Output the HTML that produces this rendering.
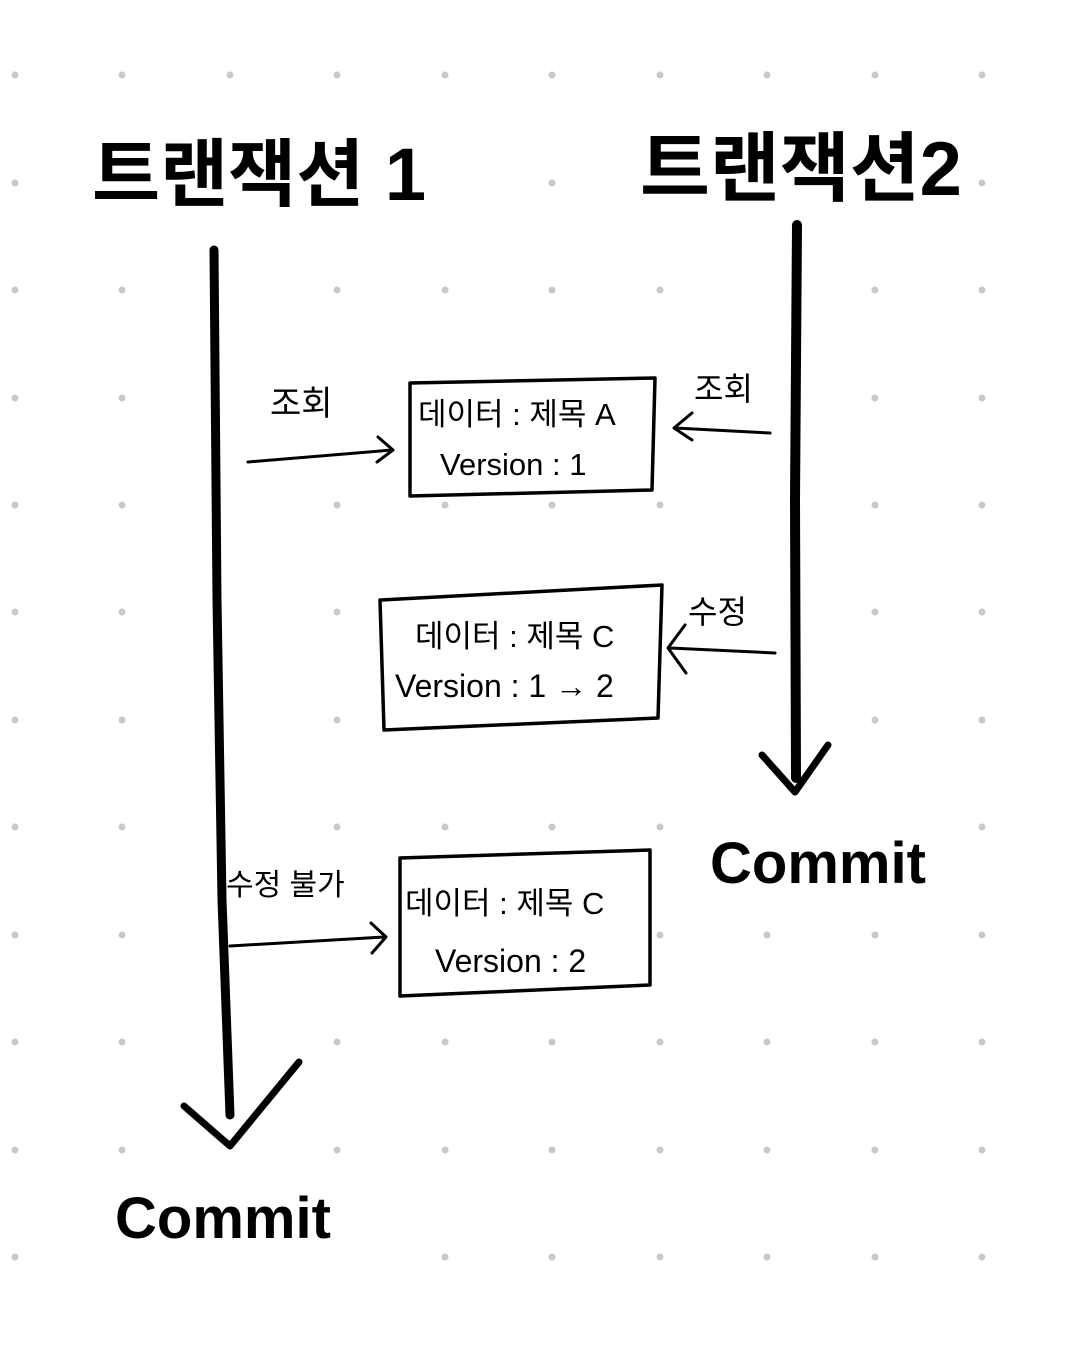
<!DOCTYPE html>
<html><head><meta charset="utf-8"><style>
html,body{margin:0;padding:0;background:#fff;}
svg{display:block;}
text{font-family:"Liberation Sans","Noto Sans CJK KR","NanumGothic",sans-serif;fill:#000;}
</style></head><body>
<svg width="1078" height="1359" viewBox="0 0 1078 1359" xmlns="http://www.w3.org/2000/svg">
<rect width="1078" height="1359" fill="#fff"/>
<g fill="#c9c9c9">
<circle cx="15" cy="75" r="3.5"/><circle cx="122" cy="75" r="3.5"/><circle cx="230" cy="75" r="3.5"/><circle cx="337" cy="75" r="3.5"/><circle cx="445" cy="75" r="3.5"/><circle cx="552" cy="75" r="3.5"/><circle cx="660" cy="75" r="3.5"/><circle cx="767" cy="75" r="3.5"/><circle cx="875" cy="75" r="3.5"/><circle cx="982" cy="75" r="3.5"/>
<circle cx="15" cy="183" r="3.5"/><circle cx="552" cy="183" r="3.5"/><circle cx="982" cy="183" r="3.5"/>
<circle cx="15" cy="290" r="3.5"/><circle cx="122" cy="290" r="3.5"/><circle cx="337" cy="290" r="3.5"/><circle cx="445" cy="290" r="3.5"/><circle cx="552" cy="290" r="3.5"/><circle cx="660" cy="290" r="3.5"/><circle cx="875" cy="290" r="3.5"/><circle cx="982" cy="290" r="3.5"/>
<circle cx="15" cy="398" r="3.5"/><circle cx="122" cy="398" r="3.5"/><circle cx="875" cy="398" r="3.5"/><circle cx="982" cy="398" r="3.5"/>
<circle cx="15" cy="505" r="3.5"/><circle cx="122" cy="505" r="3.5"/><circle cx="337" cy="505" r="3.5"/><circle cx="445" cy="505" r="3.5"/><circle cx="552" cy="505" r="3.5"/><circle cx="660" cy="505" r="3.5"/><circle cx="875" cy="505" r="3.5"/><circle cx="982" cy="505" r="3.5"/>
<circle cx="15" cy="612" r="3.5"/><circle cx="122" cy="612" r="3.5"/><circle cx="337" cy="612" r="3.5"/><circle cx="875" cy="612" r="3.5"/><circle cx="982" cy="612" r="3.5"/>
<circle cx="15" cy="720" r="3.5"/><circle cx="122" cy="720" r="3.5"/><circle cx="337" cy="720" r="3.5"/><circle cx="875" cy="720" r="3.5"/><circle cx="982" cy="720" r="3.5"/>
<circle cx="15" cy="827" r="3.5"/><circle cx="122" cy="827" r="3.5"/><circle cx="337" cy="827" r="3.5"/><circle cx="445" cy="827" r="3.5"/><circle cx="552" cy="827" r="3.5"/><circle cx="660" cy="827" r="3.5"/><circle cx="982" cy="827" r="3.5"/>
<circle cx="15" cy="935" r="3.5"/><circle cx="122" cy="935" r="3.5"/><circle cx="660" cy="935" r="3.5"/><circle cx="767" cy="935" r="3.5"/><circle cx="875" cy="935" r="3.5"/><circle cx="982" cy="935" r="3.5"/>
<circle cx="15" cy="1042" r="3.5"/><circle cx="122" cy="1042" r="3.5"/><circle cx="337" cy="1042" r="3.5"/><circle cx="445" cy="1042" r="3.5"/><circle cx="552" cy="1042" r="3.5"/><circle cx="660" cy="1042" r="3.5"/><circle cx="767" cy="1042" r="3.5"/><circle cx="875" cy="1042" r="3.5"/><circle cx="982" cy="1042" r="3.5"/>
<circle cx="15" cy="1150" r="3.5"/><circle cx="122" cy="1150" r="3.5"/><circle cx="337" cy="1150" r="3.5"/><circle cx="445" cy="1150" r="3.5"/><circle cx="552" cy="1150" r="3.5"/><circle cx="660" cy="1150" r="3.5"/><circle cx="767" cy="1150" r="3.5"/><circle cx="875" cy="1150" r="3.5"/><circle cx="982" cy="1150" r="3.5"/>
<circle cx="15" cy="1257" r="3.5"/><circle cx="445" cy="1257" r="3.5"/><circle cx="552" cy="1257" r="3.5"/><circle cx="660" cy="1257" r="3.5"/><circle cx="767" cy="1257" r="3.5"/><circle cx="875" cy="1257" r="3.5"/><circle cx="982" cy="1257" r="3.5"/>
</g>
<g fill="none" stroke="#000" stroke-linecap="round" stroke-linejoin="round">
<path d="M214 250 L217 600 L222 900 L230 1115" stroke-width="9"/>
<path d="M184 1106 L230 1146 L299 1062" stroke-width="7"/>
<path d="M797 225 L795 500 L796 778" stroke-width="10"/>
<path d="M762 755 L795 792 L828 745" stroke-width="7"/>
<path d="M410 383 L655 378 L652 490 L410 496 Z" stroke-width="3.5"/>
<path d="M380 600 L662 585 L658 718 L384 730 Z" stroke-width="3.5"/>
<path d="M400 858 L650 850 L650 985 L400 996 Z" stroke-width="3.5"/>
<path d="M248 462 L392 450 M378 437 L393 450 L377 462" stroke-width="3"/>
<path d="M770 433 L675 428 M692 413 L674 428 L692 440" stroke-width="3"/>
<path d="M775 653 L670 648 M685 625 L668 648 L686 673" stroke-width="3"/>
<path d="M230 946 L385 937 M371 923 L386 937 L372 953" stroke-width="3"/>
</g>
<text x="92" y="200" font-size="74" font-weight="bold">트랜잭션 1</text>
<text x="640" y="195" font-size="76" font-weight="bold">트랜잭션2</text>
<text x="710" y="883" font-size="58" font-weight="bold">Commit</text>
<text x="115" y="1238" font-size="58" font-weight="bold">Commit</text>
<text x="270" y="415" font-size="34">조회</text>
<text x="694" y="400" font-size="32">조회</text>
<text x="688" y="623" font-size="32">수정</text>
<text x="226" y="895" font-size="30">수정 불가</text>
<text x="418" y="425" font-size="31">데이터 : 제목 A</text>
<text x="440" y="475" font-size="31">Version : 1</text>
<text x="415" y="647" font-size="31">데이터 : 제목 C</text>
<text x="395" y="697" font-size="32">Version : 1 → 2</text>
<text x="405" y="914" font-size="31">데이터 : 제목 C</text>
<text x="435" y="972" font-size="32">Version : 2</text>
</svg>
</body></html>
